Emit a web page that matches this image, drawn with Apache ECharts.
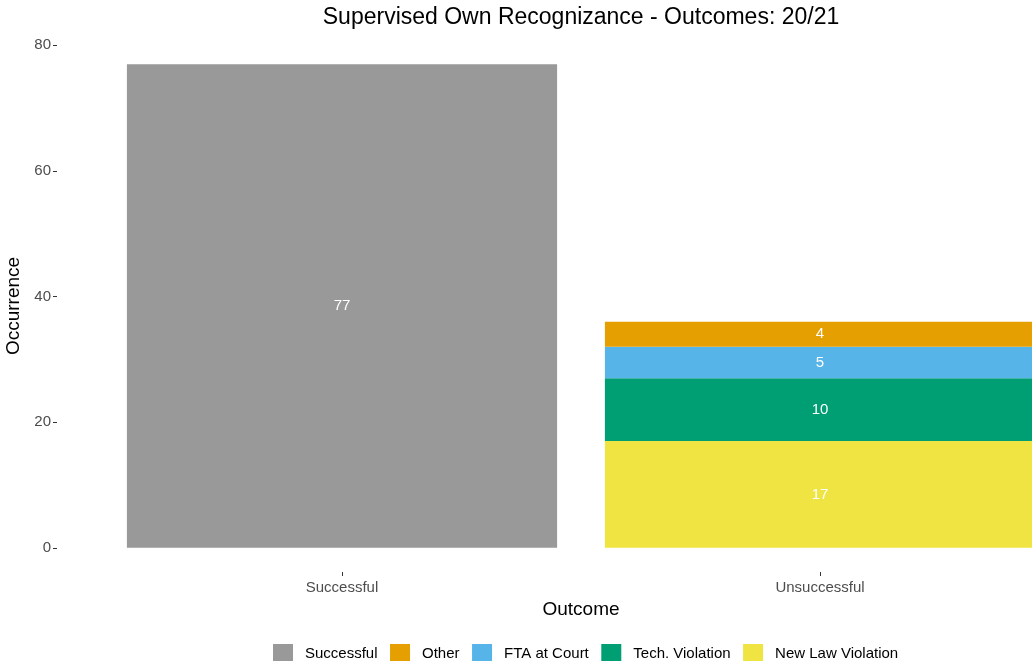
<!DOCTYPE html>
<html>
<head>
<meta charset="utf-8">
<title>Supervised Own Recognizance - Outcomes</title>
<script src="https://cdn.jsdelivr.net/npm/echarts@6/dist/echarts.min.js"></script>
<style>
  html, body { margin: 0; padding: 0; background: #fff; }
  #chart { width: 1032px; height: 661px; }
</style>
</head>
<body>
<div id="chart"></div>
<script>
// data
const categories = ['Successful', 'Unsuccessful'];
const successfulValues = [77, null];
const newLawValues = [null, 17];
const techValues = [null, 10];
const ftaValues = [null, 5];
const otherValues = [null, 4];
const yTicks = [0, 20, 40, 60, 80];
const legendOrder = ['Successful', 'Other', 'FTA at Court', 'Tech. Violation', 'New Law Violation'];

const fontFamily = 'Liberation Sans, Arial, sans-serif';

// stack order: first series sits at the bottom
const stackSeries = [
  { name: 'Successful', values: successfulValues, color: '#999999' },
  { name: 'New Law Violation', values: newLawValues, color: '#F0E442' },
  { name: 'Tech. Violation', values: techValues, color: '#009E73' },
  { name: 'FTA at Court', values: ftaValues, color: '#56B4E9' },
  { name: 'Other', values: otherValues, color: '#E69F00' }
];

// ggplot-style 5% padding on the value range
const yMax = 77;
const yPad = yMax * 0.05;

const chart = echarts.init(document.getElementById('chart'));

const option = {
  backgroundColor: '#fff',
  animation: false,
  textStyle: { fontFamily: fontFamily },
  title: {
    text: 'Supervised Own Recognizance - Outcomes: 20/21',
    left: 576,
    textAlign: 'center',
    top: 1,
    textStyle: { fontSize: 23, fontWeight: 'normal', color: '#000', fontFamily: fontFamily }
  },
  grid: {
    left: 103,
    width: 956,
    top: 40,
    bottom: 89,
    outerBoundsMode: 'none' // the right bar runs past the edge in the original
  },
  legend: {
    data: legendOrder,
    left: 268,
    top: 639,
    itemWidth: 20,
    itemHeight: 20,
    itemGap: 12.5,
    icon: 'rect',
    textStyle: { fontSize: 15, color: '#000', fontFamily: fontFamily, padding: [0, 0, 0, 7] }
  },
  xAxis: {
    type: 'category',
    data: categories,
    name: 'Outcome',
    nameLocation: 'middle',
    nameGap: 25,
    nameTextStyle: { fontSize: 19, color: '#000' },
    axisLine: { show: false, onZero: false },
    axisTick: { show: true, alignWithLabel: true, length: 4, lineStyle: { color: '#333' } },
    axisLabel: { fontSize: 15, color: '#4d4d4d', margin: 8 },
    splitLine: { show: false }
  },
  yAxis: {
    type: 'value',
    min: -yPad,
    max: yMax + yPad,
    offset: 46,
    name: 'Occurrence',
    nameLocation: 'middle',
    nameGap: 28,
    nameTextStyle: { fontSize: 19, color: '#000' },
    axisLine: { show: false },
    axisTick: { show: true, length: 4, customValues: yTicks, lineStyle: { color: '#333' } },
    axisLabel: { fontSize: 15, color: '#4d4d4d', margin: 6, customValues: yTicks },
    splitLine: { show: false }
  },
  series: stackSeries.map(function (s) {
    return {
      name: s.name,
      type: 'bar',
      stack: 'total',
      barWidth: '90%',
      data: s.values.map(function (v) { return v === null ? '-' : v; }),
      itemStyle: { color: s.color },
      label: {
        show: true,
        position: 'inside',
        color: '#fff',
        fontSize: 15,
        fontFamily: fontFamily
      }
    };
  })
};

chart.setOption(option);
window.onresize = function () { chart.resize(); };
</script>
</body>
</html>
